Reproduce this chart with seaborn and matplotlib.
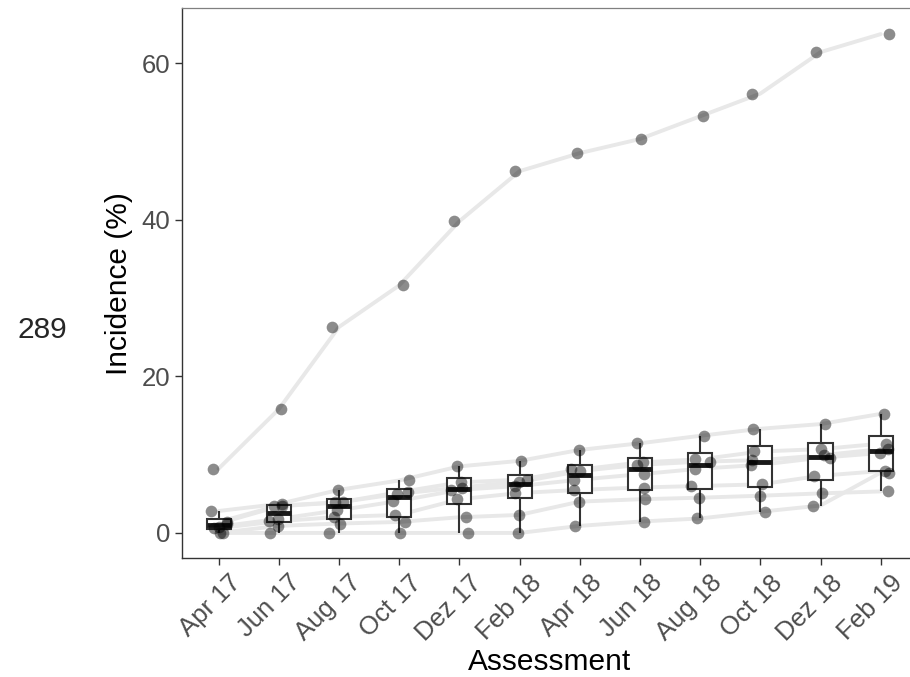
import matplotlib
matplotlib.use("Agg")
import matplotlib.pyplot as plt
import matplotlib.transforms as mtransforms
import seaborn as sns
import pandas as pd
import numpy as np

# assessment dates (x categories)
dates = ["Apr 17", "Jun 17", "Aug 17", "Oct 17", "Dez 17", "Feb 18",
         "Apr 18", "Jun 18", "Aug 18", "Oct 18", "Dez 18", "Feb 19"]

# incidence (%) per field
field_1 = [0.0, 0.0, 0.0, 0.0, 0.0, 0.0, 0.9, 1.45, 1.85, 2.7, 3.5, 7.7]
field_2 = [0.0, 0.9, 1.2, 1.4, 2.0, 2.3, 4.0, 4.3, 4.5, 4.75, 5.05, 5.3]
field_3 = [0.6, 1.5, 2.05, 2.3, 4.3, 5.1, 5.5, 5.8, 6.0, 6.2, 7.3, 7.9]
field_4 = [0.8, 1.8, 2.9, 4.1, 5.5, 6.0, 6.8, 7.5, 8.2, 8.7, 9.6, 10.2]
field_5 = [1.2, 3.4, 3.9, 5.0, 5.8, 6.5, 7.9, 8.7, 9.1, 9.3, 9.9, 10.7]
field_6 = [1.4, 3.5, 3.9, 5.2, 6.45, 6.8, 8.1, 9.0, 9.4, 10.4, 10.7, 11.4]
field_7 = [2.8, 3.7, 5.5, 6.7, 8.5, 9.2, 10.6, 11.45, 12.4, 13.3, 13.9, 15.2]
field_8 = [8.2, 15.8, 26.3, 31.6, 39.8, 46.2, 48.5, 50.3, 53.2, 56.1, 61.4, 63.7]

fields = [field_1, field_2, field_3, field_4, field_5, field_6, field_7, field_8]

rows = []
for i, vals in enumerate(fields):
    for j, v in enumerate(vals):
        rows.append({"field": i + 1, "assessment": dates[j], "pos": j, "incidence": v})
df = pd.DataFrame(rows)

sns.set_style("white")
plt.rcParams["font.family"] = ["Liberation Sans", "DejaVu Sans"]

fig = plt.figure(figsize=(9.1, 6.77), dpi=100)
ax = fig.add_axes([0.2005, 0.1758, 0.807, 0.812])

# boxes (outliers hidden, the points are drawn separately)
sns.boxplot(data=df, x="assessment", y="incidence", order=dates, ax=ax,
            color="white", linecolor="#333333", linewidth=1.5, width=0.4,
            showfliers=False, showcaps=False, whis=1.5,
            medianprops={"linewidth": 3.5, "color": "#1a1a1a"})

# one line per field
sns.lineplot(data=df, x="pos", y="incidence", units="field", estimator=None,
             color="#e8e8e8", linewidth=2.8, legend=False, ax=ax, zorder=0.5)

np.random.seed(3)
sns.stripplot(data=df, x="assessment", y="incidence", order=dates, ax=ax,
              color="black", alpha=0.45, size=8.4, jitter=0.17, linewidth=0,
              zorder=4)

ax.set_xlim(-0.6, 11.6)
ax.set_ylim(-3.2, 67.0)
ax.set_yticks([0, 20, 40, 60])
ax.set_xticks(range(len(dates)))
ax.set_xticklabels(dates, rotation=45, ha="right", rotation_mode="anchor")

ax.tick_params(axis="both", which="major", labelsize=18.5, labelcolor="#4d4d4d",
               color="#333333", length=5, width=1, direction="out", pad=4,
               bottom=True, left=True)

# nudge the rotated date labels to the right a little
shift = mtransforms.ScaledTranslation(7 / 72, 0, fig.dpi_scale_trans)
for lab in ax.xaxis.get_majorticklabels():
    lab.set_transform(lab.get_transform() + shift)

ax.set_xlabel("Assessment", fontsize=21.5, color="black", labelpad=2)
ax.set_ylabel("Incidence (%)", fontsize=21.5, color="black", labelpad=6)

for side in ["left", "bottom"]:
    ax.spines[side].set_color("#333333")
    ax.spines[side].set_linewidth(1.0)
ax.spines["top"].set_color("#808080")
ax.spines["top"].set_linewidth(0.9)
ax.spines["right"].set_visible(False)

fig.text(0.047, 0.512, "289", fontsize=21.5, ha="center", va="center")

fig.savefig("out.png", dpi=100)
